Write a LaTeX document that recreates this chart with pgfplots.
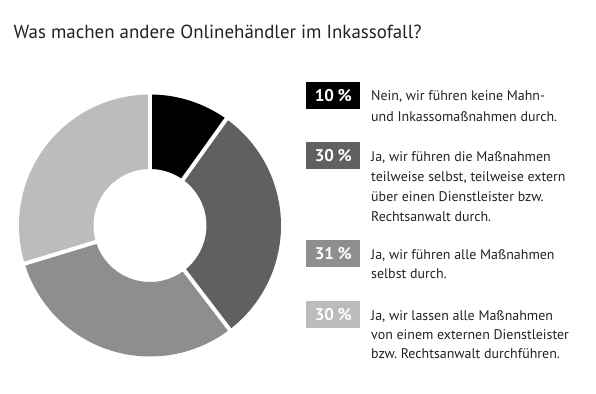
\documentclass[border=0pt]{standalone}
\usepackage{fontspec}
\setmainfont{PT Sans}
\usepackage{pgfplots}
\usepackage{pgfplotstable}
\pgfplotsset{compat=1.18}
\definecolor{segA}{HTML}{000000}
\definecolor{segB}{HTML}{606060}
\definecolor{segC}{HTML}{8E8E8E}
\definecolor{segD}{HTML}{BCBCBC}
\definecolor{txt}{HTML}{222222}
\pgfplotstableread{
value
10
30
31
30
}\piedata
\frenchspacing
\begin{document}
\begin{tikzpicture}
\pgfplotstablegetelem{0}{value}\of\piedata \let\va\pgfplotsretval
\pgfplotstablegetelem{1}{value}\of\piedata \let\vb\pgfplotsretval
\pgfplotstablegetelem{2}{value}\of\piedata \let\vc\pgfplotsretval
\pgfplotstablegetelem{3}{value}\of\piedata \let\vd\pgfplotsretval
\pgfmathsetmacro\total{\va+\vb+\vc+\vd}
\pgfmathsetmacro\aA{0}
\pgfmathsetmacro\aB{\va/\total*360}
\pgfmathsetmacro\aC{(\va+\vb)/\total*360}
\pgfmathsetmacro\aD{(\va+\vb+\vc)/\total*360}
\pgfmathsetmacro\aE{360}
\begin{axis}[
  width=596bp, height=394bp, scale only axis,
  xmin=0, xmax=596, ymin=0, ymax=394,
  enlargelimits=false, hide axis, clip=false,
]
\path (rel axis cs:0,0) rectangle (rel axis cs:1,1);
% donut ring: centre (150,168.5), mid radius 93.75, thickness 74.5
\addplot[draw=segA, line width=74.5bp, domain=\aA:\aB, samples=40] ({150+93.75*sin(x)},{168.5+93.75*cos(x)});
\addplot[draw=segB, line width=74.5bp, domain=\aB:\aC, samples=80] ({150+93.75*sin(x)},{168.5+93.75*cos(x)});
\addplot[draw=segC, line width=74.5bp, domain=\aC:\aD, samples=80] ({150+93.75*sin(x)},{168.5+93.75*cos(x)});
\addplot[draw=segD, line width=74.5bp, domain=\aD:\aE, samples=80] ({150+93.75*sin(x)},{168.5+93.75*cos(x)});
% separators
\addplot[white, line width=4bp, domain=50:140, samples=2] ({150+x*sin(\aA)},{168.5+x*cos(\aA)});
\addplot[white, line width=4bp, domain=50:140, samples=2] ({150+x*sin(\aB)},{168.5+x*cos(\aB)});
\addplot[white, line width=4bp, domain=50:140, samples=2] ({150+x*sin(\aC)},{168.5+x*cos(\aC)});
\addplot[white, line width=4bp, domain=50:140, samples=2] ({150+x*sin(\aD)},{168.5+x*cos(\aD)});
% title
\node[anchor=base west, inner sep=0pt, text=txt, font=\fontsize{19}{22}\selectfont] at (axis cs:13.5,355) {Was machen andere Onlinehändler im Inkassofall?};
% legend boxes
\tikzset{bx/.style={text=white, minimum width=54bp, minimum height=27bp, inner sep=0pt, font=\fontsize{17}{20}\selectfont\bfseries}}
\node[bx, fill=segA] at (axis cs:333.3,298.5) {10\hspace{3.5bp}\%};
\node[bx, fill=segB] at (axis cs:333.3,238.5) {30\hspace{3.5bp}\%};
\node[bx, fill=segC] at (axis cs:333.3,140.5) {31\hspace{3.5bp}\%};
\node[bx, fill=segD] at (axis cs:333.3,79.5) {30\hspace{3.5bp}\%};
% legend texts
\tikzset{lt/.style={anchor=base west, inner sep=0pt, text=txt, font=\fontsize{14}{20}\selectfont}}
\node[lt] at (axis cs:371,293.3) {Nein, wir führen keine Mahn-};
\node[lt] at (axis cs:371,272.3) {und Inkassomaßnahmen durch.};
\node[lt] at (axis cs:371,232.3) {Ja, wir führen die Maßnahmen};
\node[lt] at (axis cs:371,212.3) {teilweise selbst, teilweise extern};
\node[lt] at (axis cs:371,192.3) {über einen Dienstleister bzw.};
\node[lt] at (axis cs:371,172.3) {Rechtsanwalt durch.};
\node[lt] at (axis cs:371,134.7) {Ja, wir führen alle Maßnahmen};
\node[lt] at (axis cs:371,115.7) {selbst durch.};
\node[lt] at (axis cs:371,73.3) {Ja, wir lassen alle Maßnahmen};
\node[lt] at (axis cs:371,54) {von einem externen Dienstleister};
\node[lt] at (axis cs:371,35) {bzw. Rechtsanwalt durchführen.};
\end{axis}
\end{tikzpicture}
\end{document}
